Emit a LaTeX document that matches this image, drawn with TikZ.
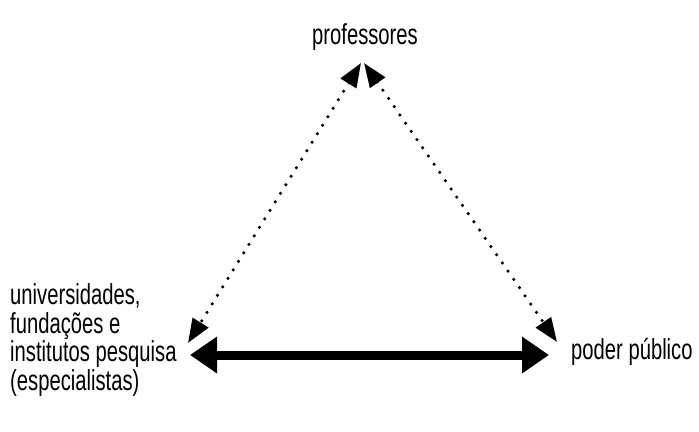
\documentclass[tikz,border=0pt]{standalone}
\usepackage{fontspec}
\setmainfont[FakeStretch=0.7]{Liberation Sans}
\usetikzlibrary{arrows.meta}

\begin{document}
\begin{tikzpicture}[
            x=1bp,
            y=-1bp,
            actor/.style={draw=none,inner sep=0pt,font=\fontsize{29}{28.5}\selectfont},
            dotlink/.style={line width=3.5bp,line cap=round,dash pattern=on 0pt off 10bp,
                {Triangle[length=24bp,width=18bp]}-{Triangle[length=24bp,width=18bp]}},
            mainlink/.style={line width=9bp,{Triangle[length=27bp,width=35bp]}-{Triangle[length=27bp,width=35bp]}}
        ]
            \useasboundingbox (0,0) rectangle (699,431);

            \node[actor] (prof) at (365,37) {professores};
            \node[actor,anchor=west,align=left] (inst) at (10,340)
                {universidades,\\fundações e\\institutos pesquisa\\(especialistas)};
            \node[actor,anchor=west] (poder) at (571,352) {poder público};

            \coordinate (pl) at (361,63);
            \coordinate (pr) at (364,63);
            \coordinate (il) at (188,343);
            \coordinate (ih) at (190,355);
            \coordinate (ql) at (557,342);
            \coordinate (qh) at (549,355);

            \draw[dotlink] (pl) -- (il);
            \draw[dotlink] (pr) -- (ql);
            \draw[mainlink] (ih) -- (qh);
        \end{tikzpicture}
\end{document}
